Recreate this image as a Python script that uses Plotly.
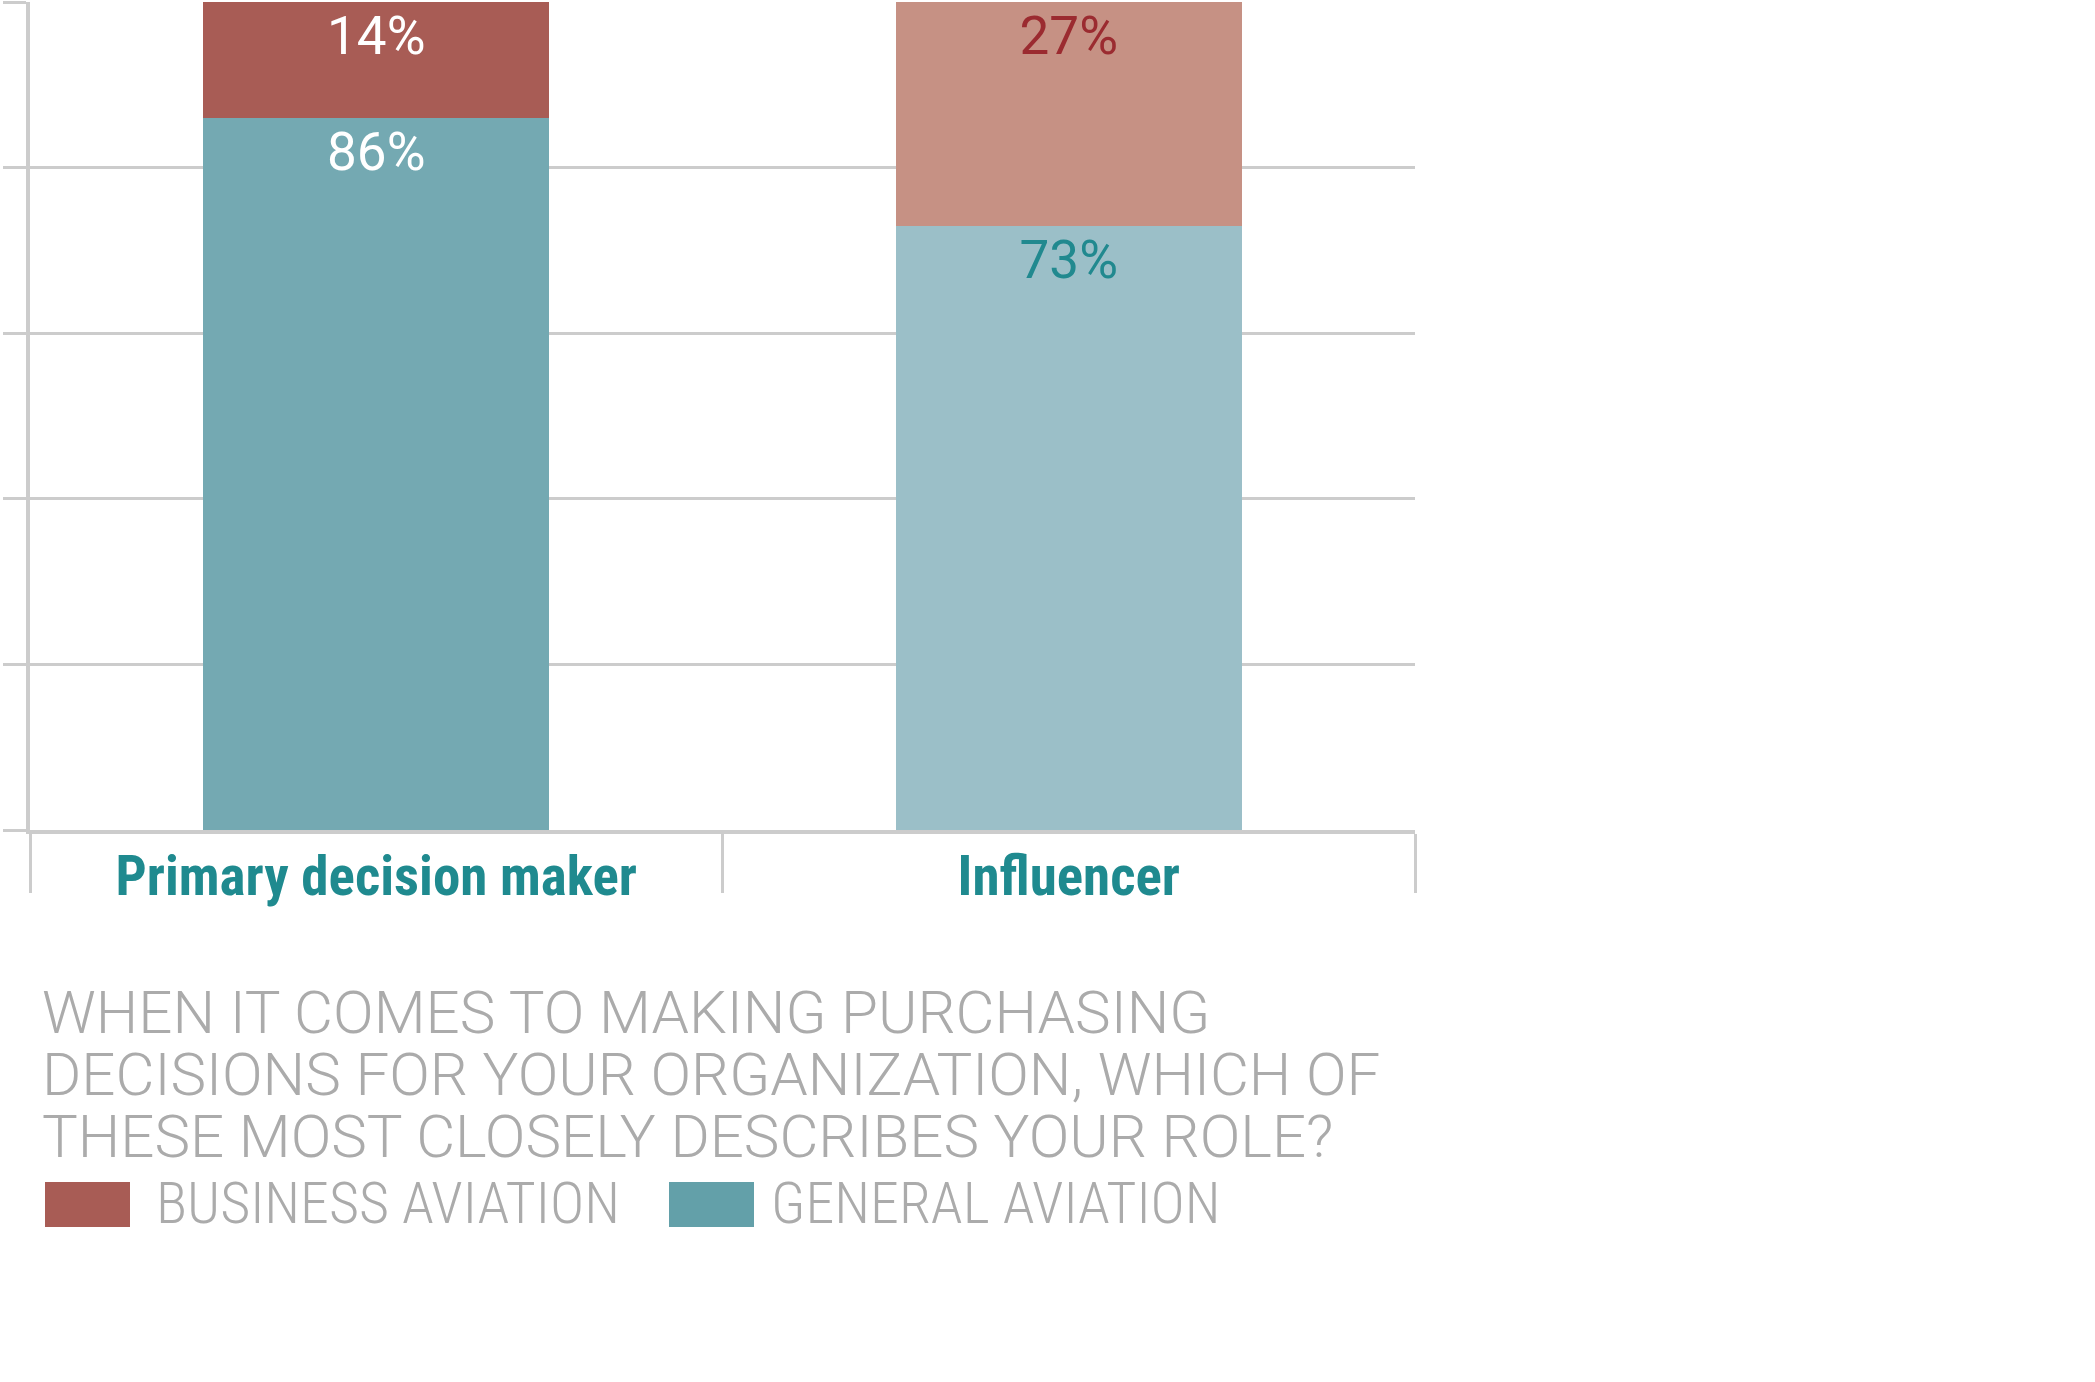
import plotly.graph_objects as go

# ---- data ----
categories = ["Primary decision maker", "Influencer"]
general_aviation = [86, 73]
business_aviation = [14, 27]
series_names = ["BUSINESS AVIATION", "GENERAL AVIATION"]
title_lines = [
    "WHEN IT COMES TO MAKING PURCHASING",
    "DECISIONS FOR YOUR ORGANIZATION, WHICH OF",
    "THESE MOST CLOSELY DESCRIBES YOUR ROLE?",
]

# ---- styling ----
W, H = 2095, 1382
L, R, T, B = 30, 680, 2, 552
PW, PH = W - L - R, H - T - B
GRID = "#CCCCCC"
COND = "Roboto, Open Sans, sans-serif"
LIGHT = "Roboto, Liberation Sans, Arial, sans-serif"
TITLE_GRAY = "#ABABAB"

ga_colors = ["#74A9B2", "#9BBFC8"]
ba_colors = ["#A85C55", "#C69184"]
ga_text = ["#FFFFFF", "#21898F"]
ba_text = ["#FFFFFF", "#9B2B30"]
legend_colors = ["#A85C55", "#63A0A9"]


def cond(s, pct=75):
    return f'<span style="font-stretch:{pct}%">{s}</span>'


def px_x(p):
    return (p - L) / PW


def px_y(p):
    return (H - B - p) / PH


fig = go.Figure()
fig.add_trace(go.Bar(
    x=categories, y=general_aviation, name=series_names[1],
    marker=dict(color=ga_colors, line=dict(width=0)),
    text=[f"{v}%" for v in general_aviation],
    texttemplate=cond("%{text}", 90),
    textposition="inside", insidetextanchor="end",
    textfont=dict(family=COND, size=53, color=ga_text),
    cliponaxis=False, showlegend=False,
))
fig.add_trace(go.Bar(
    x=categories, y=business_aviation, name=series_names[0],
    marker=dict(color=ba_colors, line=dict(width=0)),
    text=[f"{v}%" for v in business_aviation],
    texttemplate=cond("%{text}", 90),
    textposition="inside", insidetextanchor="end",
    textfont=dict(family=COND, size=53, color=ba_text),
    cliponaxis=False, showlegend=False,
))

fig.update_layout(
    width=W, height=H,
    margin=dict(l=L, r=R, t=T, b=B, pad=0),
    paper_bgcolor="white", plot_bgcolor="white",
    barmode="stack", bargap=0.5,
    xaxis=dict(
        type="category",
        tickmode="array", tickvals=categories,
        ticktext=[cond(c) for c in categories],
        showgrid=False, zeroline=False,
        showline=True, linecolor=GRID, linewidth=4,
        ticks="outside", tickson="boundaries", ticklen=59, tickwidth=3, tickcolor=GRID,
        tickfont=dict(family=COND, size=55, color="#1F8A8F", weight="bold"),
        ticklabelstandoff=-5,
    ),
    yaxis=dict(
        range=[0, 100], dtick=20, tick0=0,
        showgrid=True, gridcolor=GRID, gridwidth=3,
        zeroline=False,
        showline=True, linecolor=GRID, linewidth=4,
        ticks="outside", ticklen=23, tickwidth=3, tickcolor=GRID,
        showticklabels=False,
    ),
)

# question text: one annotation, tight line spacing (base size sets spacing)
question = "<br>".join(f'<span style="font-size:60px">{t}</span>' for t in title_lines)
fig.add_annotation(
    x=px_x(40), y=px_y(975), xref="paper", yref="paper",
    xanchor="left", yanchor="top", align="left",
    text=question, showarrow=False,
    font=dict(family=LIGHT, size=47.7, color=TITLE_GRAY, weight=300),
)

# legend (swatches + labels)
swatches = [(45, 130, 154), (669, 754, 769)]
for (x0, x1, xt), col, name in zip(swatches, legend_colors, series_names):
    fig.add_shape(type="rect", xref="paper", yref="paper",
                  x0=px_x(x0), x1=px_x(x1), y0=px_y(1227), y1=px_y(1182),
                  fillcolor=col, line=dict(width=0))
    fig.add_annotation(
        x=px_x(xt), y=px_y(1225), xref="paper", yref="paper",
        xanchor="left", yanchor="bottom", yshift=-14,
        text=cond(name, 87.5), showarrow=False,
        font=dict(family=LIGHT, size=58, color=TITLE_GRAY, weight=300),
    )

fig.write_html("out.html")
